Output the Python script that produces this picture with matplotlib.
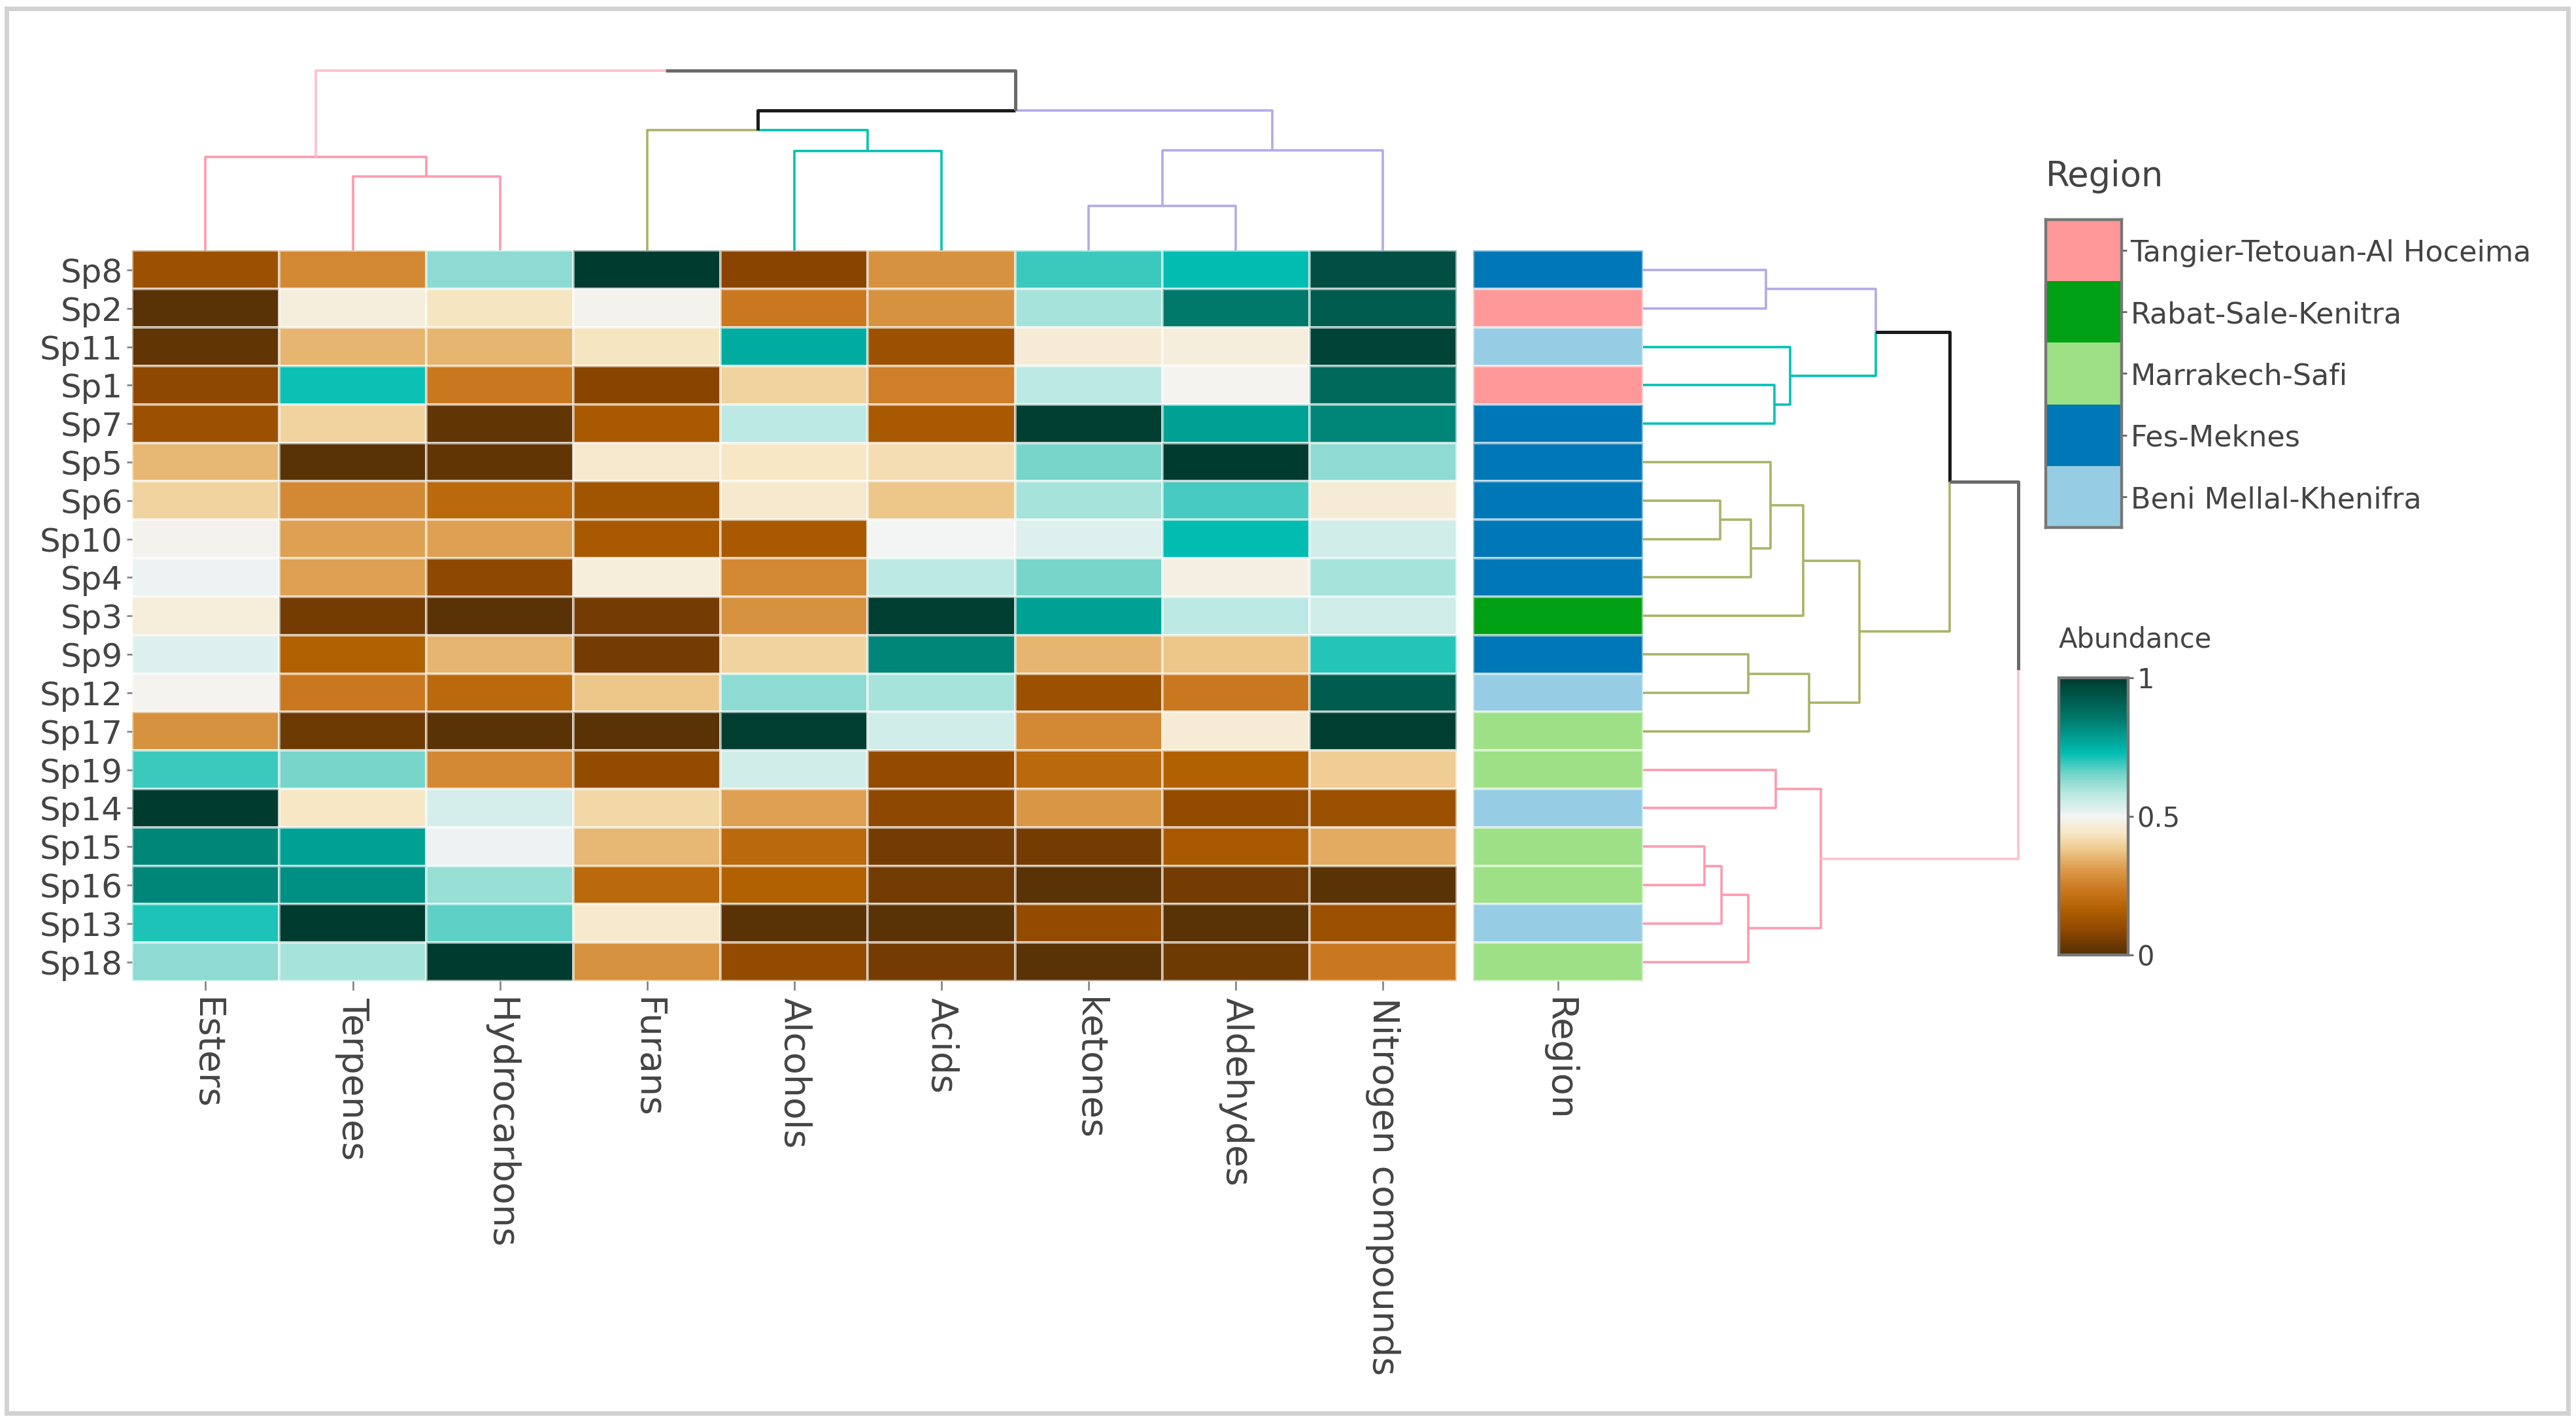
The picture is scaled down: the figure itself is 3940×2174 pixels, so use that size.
import numpy as np
import matplotlib
matplotlib.use("Agg")
import matplotlib.pyplot as plt
from matplotlib.colors import LinearSegmentedColormap, ListedColormap
from matplotlib.patches import Rectangle
from matplotlib.cm import ScalarMappable
from matplotlib.colors import Normalize

# ---- data ----
samples = ["Sp8", "Sp2", "Sp11", "Sp1", "Sp7", "Sp5", "Sp6", "Sp10", "Sp4", "Sp3",
           "Sp9", "Sp12", "Sp17", "Sp19", "Sp14", "Sp15", "Sp16", "Sp13", "Sp18"]
compounds = ["Esters", "Terpenes", "Hydrocarbons", "Furans", "Alcohols", "Acids",
             "ketones", "Aldehydes", "Nitrogen compounds"]

abundance = [
    [0.12, 0.27, 0.625, 1.00, 0.08, 0.29, 0.69, 0.73, 0.95],   # Sp8
    [0.01, 0.47, 0.435, 0.49, 0.235, 0.29, 0.60, 0.855, 0.92],  # Sp2
    [0.02, 0.35, 0.35, 0.435, 0.76, 0.12, 0.46, 0.47, 0.98],    # Sp11
    [0.09, 0.72, 0.235, 0.08, 0.40, 0.25, 0.575, 0.495, 0.89],  # Sp1
    [0.12, 0.40, 0.02, 0.145, 0.575, 0.145, 0.99, 0.78, 0.83],  # Sp7
    [0.355, 0.01, 0.02, 0.45, 0.44, 0.42, 0.65, 1.00, 0.625],   # Sp5
    [0.40, 0.27, 0.19, 0.13, 0.45, 0.375, 0.60, 0.68, 0.46],    # Sp6
    [0.49, 0.32, 0.32, 0.145, 0.145, 0.50, 0.53, 0.73, 0.55],   # Sp10
    [0.51, 0.32, 0.09, 0.465, 0.27, 0.575, 0.65, 0.48, 0.60],   # Sp4
    [0.465, 0.05, 0.01, 0.05, 0.29, 0.99, 0.78, 0.575, 0.55],   # Sp3
    [0.53, 0.165, 0.35, 0.05, 0.40, 0.83, 0.35, 0.375, 0.705],  # Sp9
    [0.495, 0.235, 0.19, 0.375, 0.625, 0.60, 0.12, 0.235, 0.92],  # Sp12
    [0.29, 0.04, 0.01, 0.01, 0.99, 0.55, 0.27, 0.46, 0.99],     # Sp17
    [0.69, 0.65, 0.27, 0.10, 0.55, 0.10, 0.19, 0.165, 0.39],    # Sp19
    [1.00, 0.44, 0.54, 0.41, 0.32, 0.09, 0.30, 0.10, 0.12],     # Sp14
    [0.83, 0.78, 0.51, 0.355, 0.19, 0.05, 0.05, 0.145, 0.335],  # Sp15
    [0.83, 0.81, 0.615, 0.19, 0.165, 0.045, 0.01, 0.05, 0.01],  # Sp16
    [0.71, 1.00, 0.665, 0.45, 0.01, 0.01, 0.10, 0.01, 0.12],    # Sp13
    [0.625, 0.60, 1.00, 0.29, 0.10, 0.05, 0.01, 0.04, 0.235],   # Sp18
]

region_names = ["Tangier-Tetouan-Al Hoceima", "Rabat-Sale-Kenitra", "Marrakech-Safi",
                "Fes-Meknes", "Beni Mellal-Khenifra"]
region_colors = ["#ff9999", "#00a014", "#9ee086", "#0077b7", "#96cde4"]
sample_region = ["Fes-Meknes", "Tangier-Tetouan-Al Hoceima", "Beni Mellal-Khenifra",
                 "Tangier-Tetouan-Al Hoceima", "Fes-Meknes", "Fes-Meknes", "Fes-Meknes",
                 "Fes-Meknes", "Fes-Meknes", "Rabat-Sale-Kenitra", "Fes-Meknes",
                 "Beni Mellal-Khenifra", "Marrakech-Safi", "Marrakech-Safi",
                 "Beni Mellal-Khenifra", "Marrakech-Safi", "Marrakech-Safi",
                 "Beni Mellal-Khenifra", "Marrakech-Safi"]

PINK, OLIVE, TEAL, PURPLE = "#ff9aae", "#aab366", "#00c2b2", "#b5a8ea"
BLACK, GREY, LPINK = "#1a1a1a", "#6a6a6a", "#ffc0cb"

# dendrogram merges: (child a, child b, height, colour of a-half, colour of b-half)
col_merges = [
    ("Terpenes", "Hydrocarbons", 45, PINK, PINK),
    ("Esters", 0, 57, PINK, PINK),
    ("Alcohols", "Acids", 60.5, TEAL, TEAL),
    ("Furans", 2, 73, OLIVE, TEAL),
    ("ketones", "Aldehydes", 27, PURPLE, PURPLE),
    (4, "Nitrogen compounds", 61, PURPLE, PURPLE),
    (3, 5, 85, BLACK, PURPLE),
    (1, 6, 109, LPINK, GREY),
]
row_merges = [
    ("Sp8", "Sp2", 74.4, PURPLE, PURPLE),
    ("Sp1", "Sp7", 79.6, TEAL, TEAL),
    ("Sp11", 1, 89.2, TEAL, TEAL),
    (0, 2, 141, PURPLE, TEAL),
    ("Sp6", "Sp10", 46.6, OLIVE, OLIVE),
    (4, "Sp4", 65.3, OLIVE, OLIVE),
    ("Sp5", 5, 77.4, OLIVE, OLIVE),
    (6, "Sp3", 97.2, OLIVE, OLIVE),
    ("Sp9", "Sp12", 63.7, OLIVE, OLIVE),
    (8, "Sp17", 100.6, OLIVE, OLIVE),
    (7, 9, 131.3, OLIVE, OLIVE),
    (3, 10, 185.9, BLACK, OLIVE),
    ("Sp19", "Sp14", 80.5, PINK, PINK),
    ("Sp15", "Sp16", 37.3, PINK, PINK),
    (13, "Sp13", 47.6, PINK, PINK),
    (14, "Sp18", 63.7, PINK, PINK),
    (12, 15, 108, PINK, PINK),
    (11, 16, 227.5, GREY, LPINK),
]

# ---- layout helpers (reference measured on a 1562 x 861.7 grid) ----
W, H = 1562.0, 861.7


def fr(x0, y0, x1, y1):
    return [x0 / W, 1 - y1 / H, (x1 - x0) / W, (y1 - y0) / H]


def draw_dendro(ax, leaves, merges, horizontal_leaves=True):
    pos = {name: i + 0.5 for i, name in enumerate(leaves)}
    hgt = {name: 0.0 for name in leaves}
    for k, (a, b, h, ca, cb) in enumerate(merges):
        pa, pb = pos[a], pos[b]
        ha, hb = hgt[a], hgt[b]
        mid = (pa + pb) / 2
        lwa = 1.8 if ca in (BLACK, GREY) else 1.3
        lwb = 1.8 if cb in (BLACK, GREY) else 1.3
        if horizontal_leaves:
            ax.plot([pa, pa, mid], [ha, h, h], color=ca, lw=lwa, solid_capstyle="butt")
            ax.plot([mid, pb, pb], [h, h, hb], color=cb, lw=lwb, solid_capstyle="butt")
        else:
            ax.plot([ha, h, h], [pa, pa, mid], color=ca, lw=lwa, solid_capstyle="butt")
            ax.plot([h, h, hb], [mid, pb, pb], color=cb, lw=lwb, solid_capstyle="butt")
        pos[k] = mid
        hgt[k] = h


TXT = "#444444"
plt.rcParams["font.family"] = ["DejaVu Sans"]

cmap = LinearSegmentedColormap.from_list("abund", [
    (0.00, "#543005"), (0.08, "#8a4500"), (0.16, "#b05f00"), (0.24, "#cc7a22"),
    (0.31, "#dc9c4c"), (0.38, "#eec98c"), (0.44, "#f7e7c6"), (0.50, "#f4f4f4"),
    (0.58, "#b9e9e2"), (0.65, "#78d5ca"), (0.73, "#00bdb1"), (0.86, "#007668"),
    (1.00, "#003b2f")])

fig = plt.figure(figsize=(19.705, 10.87), dpi=200)

# heatmap
vals = np.array(abundance)
ax = fig.add_axes(fr(80, 152, 883, 595))
ax.pcolormesh(vals, cmap=cmap, vmin=0, vmax=1, edgecolors=(1, 1, 1, 0.55), linewidth=0.8)
ax.set_xlim(0, len(compounds))
ax.set_ylim(len(samples), 0)
ax.set_xticks(np.arange(len(compounds)) + 0.5)
ax.set_xticklabels(compounds, rotation=-90, fontsize=20, color=TXT, va="top", ha="center")
ax.set_yticks(np.arange(len(samples)) + 0.5)
ax.set_yticklabels(samples, fontsize=18, color=TXT)
ax.tick_params(axis="y", length=3, width=1, color="#888888", pad=2)
ax.tick_params(axis="x", length=5, width=1, color="#888888", pad=4)
for s in ax.spines.values():
    s.set_visible(False)

# region column
reg_codes = np.array([region_names.index(r) for r in sample_region]).reshape(-1, 1)
reg_cmap = ListedColormap(region_colors)
axr = fig.add_axes(fr(893, 152, 996, 595))
axr.pcolormesh(reg_codes, cmap=reg_cmap, vmin=-0.5, vmax=len(region_names) - 0.5,
               edgecolors=(1, 1, 1, 0.5), linewidth=0.8)
axr.set_ylim(len(samples), 0)
axr.set_xlim(0, 1)
axr.set_yticks([])
axr.set_xticks([0.5])
axr.set_xticklabels(["Region"], rotation=-90, fontsize=20, color=TXT, va="top")
axr.tick_params(axis="x", length=5, width=1, color="#888888", pad=4)
for s in axr.spines.values():
    s.set_visible(False)

# column dendrogram
axc = fig.add_axes(fr(80, 40, 883, 152))
draw_dendro(axc, compounds, col_merges, horizontal_leaves=True)
axc.set_xlim(0, len(compounds))
axc.set_ylim(0, 112)
axc.axis("off")

# row dendrogram
axd = fig.add_axes(fr(996, 152, 1232, 595))
draw_dendro(axd, samples, row_merges, horizontal_leaves=False)
axd.set_xlim(0, 236)
axd.set_ylim(len(samples), 0)
axd.axis("off")

# region legend
fig.text(1240 / W, 1 - 107 / H, "Region", fontsize=19, color=TXT, va="center", ha="left")
axl = fig.add_axes(fr(1240, 133, 1286, 320))
axl.pcolormesh(np.arange(len(region_names)).reshape(-1, 1), cmap=reg_cmap,
               vmin=-0.5, vmax=len(region_names) - 0.5)
axl.set_ylim(len(region_names), 0)
axl.set_xticks([])
axl.yaxis.tick_right()
axl.set_yticks(np.arange(len(region_names)) + 0.5)
axl.set_yticklabels(region_names, fontsize=16, color=TXT)
axl.tick_params(axis="y", length=3, width=1, color="#666666", pad=2)
for s in axl.spines.values():
    s.set_color("#777777")
    s.set_linewidth(1.6)

# colour bar
fig.text(1248 / W, 1 - 388 / H, "Abundance", fontsize=15, color=TXT, va="center", ha="left")
cax = fig.add_axes(fr(1248, 411, 1290, 579))
cb = fig.colorbar(ScalarMappable(norm=Normalize(0, 1), cmap=cmap), cax=cax, ticks=[0, 0.5, 1])
cb.ax.set_yticklabels(["0", "0.5", "1"])
cb.ax.tick_params(labelsize=15, labelcolor=TXT, length=3, width=1, color="#666666", pad=2)
cb.outline.set_edgecolor("#777777")
cb.outline.set_linewidth(1.6)

# outer frame
fig.add_artist(Rectangle((4 / W, 1 - 857 / H), 1553 / W, 852 / H, transform=fig.transFigure,
                         fill=False, ec="#d2d2d2", lw=2.5))

fig.savefig("out.png", dpi=200, facecolor="white")
